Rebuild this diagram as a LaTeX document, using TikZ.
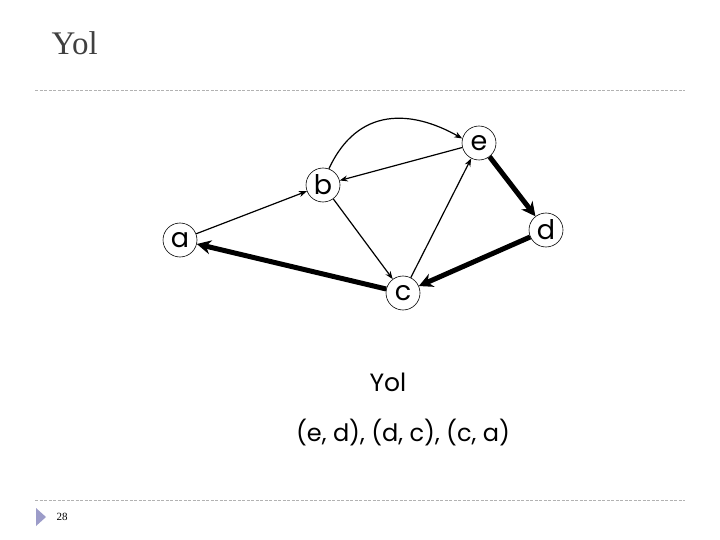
\documentclass[tikz,border=0pt]{standalone}
\usepackage{fontspec}
\setmainfont{Liberation Serif}
\newfontfamily\geo{Poppins}
\usetikzlibrary{arrows.meta}
\begin{document}
\begin{tikzpicture}[x=1pt,y=-1pt,
  vert/.style={circle,draw,line width=0.6pt,minimum size=34pt,inner sep=0pt,font=\geo\fontsize{27}{27}\selectfont},
  thin/.style={line width=1.2pt,-{Stealth[length=8pt,width=6pt]}},
  thick/.style={line width=5pt,-{Stealth[length=14pt,width=14pt]}},
  rule/.style={gray!60,dashed,line width=0.6pt,dash pattern=on 3pt off 1.5pt}]
\useasboundingbox (0,0) rectangle (720,540);
\node[font=\fontsize{33}{33}\selectfont,text=black!75,anchor=west] (title) at (48,43) {Yol};
\draw[rule] (35,90) -- (685,90);
\draw[rule] (35,500) -- (685,500);
\fill[blue!30!gray!60] (36,508) -- (46,517) -- (36,526) -- cycle;
\node[font=\fontsize{11}{11}\selectfont,anchor=west] (pg) at (53,517) {28};
\node[vert] (a) at (180,240) {a};
\node[vert] (b) at (323,185) {b};
\node[vert] (e) at (479,143) {e};
\node[vert] (d) at (546,230) {d};
\node[vert] (c) at (403,293) {c};
\draw[thin] (a) -- (b);
\draw[thin] (e) -- (b);
\draw[thin] (b) -- (c);
\draw[thin] (c) -- (e);
\draw[thin] (b.70) .. controls (358,106) and (412,110) .. (e.165);
\draw[thick] (e) -- (d);
\draw[thick] (d) -- (c);
\draw[thick] (c) -- (a);
\node[font=\geo\fontsize{25}{25}\selectfont] (t1) at (388,382) {Yol};
\node[font=\geo\fontsize{24}{24}\selectfont] (t2) at (403,433) {(e, d), (d, c), (c, a)};
\end{tikzpicture}
\end{document}
